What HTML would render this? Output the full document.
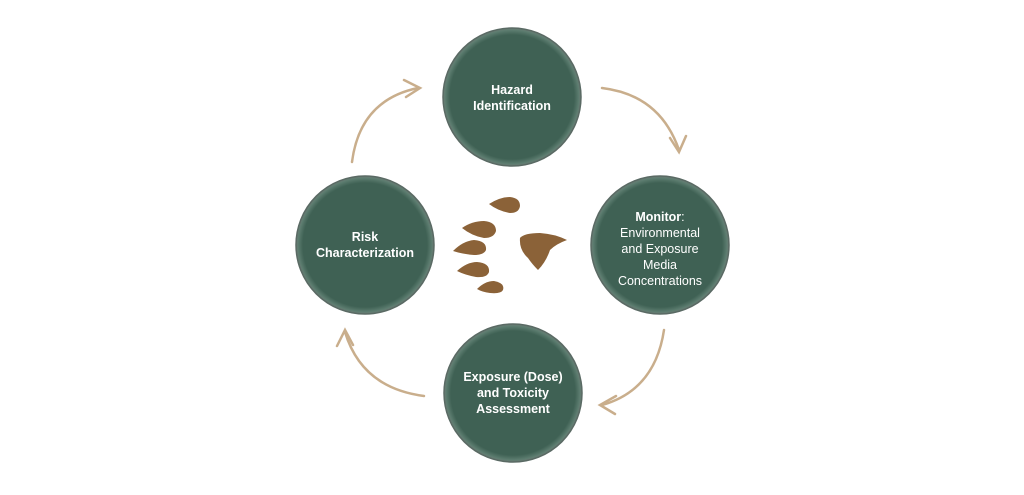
<!DOCTYPE html>
<html><head><style>
body{margin:0;background:#fff;width:1024px;height:490px;overflow:hidden}
svg text{font-family:"Liberation Sans",sans-serif;fill:#fff;font-size:12.5px;text-anchor:middle}
</style></head><body>
<svg width="1024" height="490" viewBox="0 0 1024 490">
<defs>
<radialGradient id="g" cx="50%" cy="50%" r="50%">
<stop offset="90%" stop-color="#3f6154"/><stop offset="97%" stop-color="#5d7d70"/><stop offset="100%" stop-color="#6d7a74"/>
</radialGradient>
</defs>
<g stroke="#c9ae8c" stroke-width="2.5" fill="none" stroke-linecap="round">
<path d="M602 88 Q660 95 679 150"/><path d="M670 138 L679 152 L686 136"/>
<path d="M664 330 Q655 390 602 405"/><path d="M616 396 L600 405 L615 414"/>
<path d="M424 396 Q362 388 345 332"/><path d="M337 346 L345 330 L353 345"/>
<path d="M352 162 Q360 100 418 88"/><path d="M404 80 L420 88 L406 97"/>
</g>
<g fill="url(#g)" stroke="#5a6a64" stroke-width="1.5">
<circle cx="512" cy="97" r="69"/>
<circle cx="660" cy="245" r="69"/>
<circle cx="513" cy="393" r="69"/>
<circle cx="365" cy="245" r="69"/>
</g>
<g font-weight="bold">
<text x="512" y="94">Hazard</text><text x="512" y="110">Identification</text>
<text x="365" y="241">Risk</text><text x="365" y="257">Characterization</text>
<text x="513" y="381">Exposure (Dose)</text><text x="513" y="397">and Toxicity</text><text x="513" y="413">Assessment</text>
</g>
<text x="660" y="221"><tspan font-weight="bold">Monitor</tspan>:</text>
<text x="660" y="237">Environmental</text><text x="660" y="253">and Exposure</text>
<text x="660" y="269">Media</text><text x="660" y="285">Concentrations</text>
<g fill="#8b6238">
<path d="M489 204 Q500 197 510 197 Q520 198 520 206 Q519 213 510 213 Q498 211 489 204Z"/>
<path d="M462 228 Q472 221 484 221 Q496 222 496 231 Q494 238 484 238 Q472 236 462 228Z"/>
<path d="M453 251 Q463 241 474 240 Q487 241 486 250 Q484 255 474 255 Q462 254 453 251Z"/>
<path d="M457 271 Q467 262 477 262 Q490 263 489 272 Q487 278 476 277 Q465 275 457 271Z"/>
<path d="M477 289 Q485 281 494 281 Q505 283 503 290 Q501 294 490 293 Q482 292 477 289Z"/>
<path d="M520 238 Q524 233 540 233 Q555 234 567 240 Q556 244 550 250 Q546 262 538 270 Q532 264 528 258 Q519 250 520 238Z"/>
</g>
</svg>
</body></html>
